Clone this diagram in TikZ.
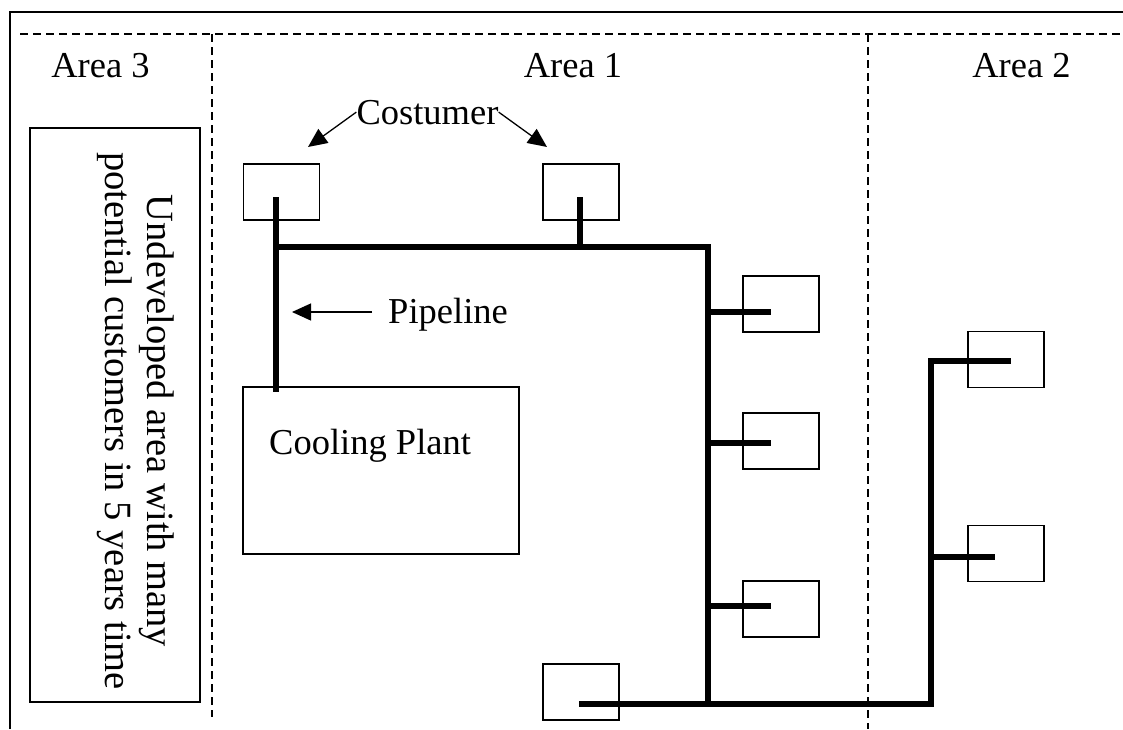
\documentclass[tikz,border=0pt]{standalone}
\usepackage{fontspec}
\setmainfont{Liberation Serif}
\usetikzlibrary{arrows.meta}
\begin{document}
\begin{tikzpicture}[x=1pt,y=-1pt,
  every node/.style={font=\fontsize{36.5}{42}\selectfont},
  frame/.style={line width=2pt},
  divider/.style={line width=1.3pt, dash pattern=on 8pt off 5pt},
  box/.style={draw, line width=1.5pt, inner sep=0pt},
  cust/.style={box, minimum width=76pt, minimum height=56pt},
  pipe/.style={line width=6pt, line join=miter},
  lbl/.style={inner sep=0pt},
  pointer/.style={line width=1.3pt, -{Triangle[length=19pt,width=17pt]}}
]
\useasboundingbox (0,0) rectangle (1123,729);

% frame and area dividers
\draw[frame] (10,729) -- (10,12) -- (1123,12);
\draw[divider] (20,34) -- (1123,34);
\draw[divider] (212,34) -- (212,717);
\draw[divider] (868,34) -- (868,729);

% area labels
\node[lbl, anchor=base] (area3) at (100.5,77) {Area 3};
\node[lbl, anchor=base] (area1) at (573,77) {Area 1};
\node[lbl, anchor=base] (area2) at (1021.5,77) {Area 2};

% undeveloped area
\node[box, minimum width=170pt, minimum height=574pt] (undev) at (115,415) {};
\node[lbl, rotate=-90, align=center, font=\fontsize{38.5}{42}\selectfont] (undevtext) at (136,421)
  {Undeveloped area with many\\potential customers in 5 years time};

% cooling plant
\node[box, minimum width=276pt, minimum height=167pt] (plant) at (381,470.5) {};
\node[lbl, anchor=base west] (plantlabel) at (269,454) {Cooling Plant};

% customers
\node[cust] (c1) at (281.5,192) {};
\node[cust] (c2) at (581,192) {};
\node[cust] (r1) at (781,304) {};
\node[cust] (r2) at (781,441) {};
\node[cust] (r3) at (781,609) {};
\node[cust] (b1) at (581,692) {};
\node[cust] (a2a) at (1006,359.5) {};
\node[cust] (a2b) at (1006,553.5) {};

% pipe coordinates
\coordinate (c1s) at (276,197);
\coordinate (pl) at (276,392);
\coordinate (j1) at (276,247);
\coordinate (k1) at (708,247);
\coordinate (k2) at (708,704);
\coordinate (c2s) at (580,197);
\coordinate (c2j) at (580,247);
\coordinate (r1j) at (708,312);
\coordinate (r1s) at (771,312);
\coordinate (r2j) at (708,443);
\coordinate (r2s) at (771,443);
\coordinate (r3j) at (708,606);
\coordinate (r3s) at (771,606);
\coordinate (b1s) at (579,704);
\coordinate (k3) at (931,704);
\coordinate (k4) at (931,361);
\coordinate (a2as) at (1011,361);
\coordinate (a2bj) at (931,557);
\coordinate (a2bs) at (995,557);

% pipes
\draw[pipe] (c1s) -- (pl);
\draw[pipe] (j1) -- (k1) -- (k2);
\draw[pipe] (c2s) -- (c2j);
\draw[pipe] (r1j) -- (r1s);
\draw[pipe] (r2j) -- (r2s);
\draw[pipe] (r3j) -- (r3s);
\draw[pipe] (b1s) -- (k3) -- (k4) -- (a2as);
\draw[pipe] (a2bj) -- (a2bs);

% labels with arrows
\node[lbl, anchor=base] (costumer) at (427.5,124) {Costumer};
\coordinate (ctipl) at (308,147);
\coordinate (ctipr) at (547,147);
\draw[pointer] (costumer.west) -- (ctipl);
\draw[pointer] (costumer.east) -- (ctipr);

\node[lbl, anchor=base west] (pipeline) at (388,323) {Pipeline};
\coordinate (pstart) at (372,312);
\coordinate (ptip) at (292,312);
\draw[pointer] (pstart) -- (ptip);
\end{tikzpicture}
\end{document}
